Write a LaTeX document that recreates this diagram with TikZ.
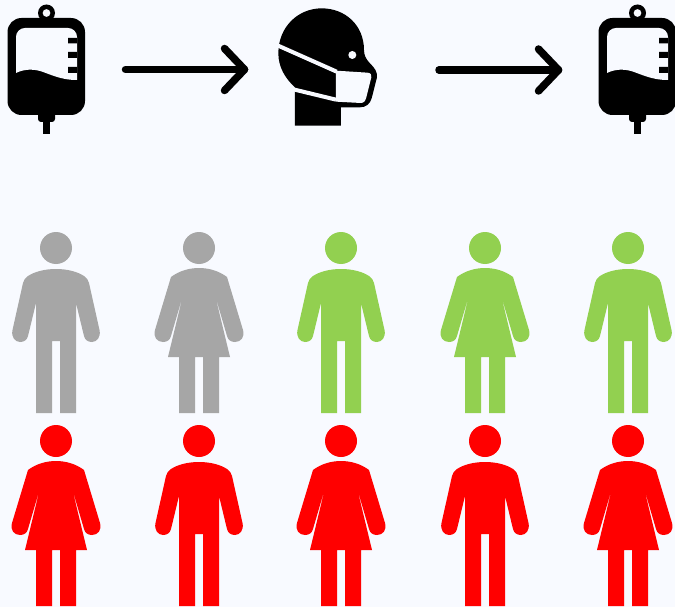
\documentclass[tikz,border=0pt]{standalone}
\definecolor{bgc}{HTML}{F8FAFF}
\definecolor{greyc}{HTML}{A6A6A6}
\definecolor{greenc}{HTML}{92D050}
\definecolor{redc}{HTML}{FF0000}
\tikzset{
  px/.style={x=1pt,y=-1pt},
  arrowline/.style={draw=black,line width=7.5pt,line cap=round,line join=round},
}
% man: #1 cx, #2 dy (0 = top row), #3 colour
\newcommand{\manfig}[3]{
  \begin{scope}[shift={(#1,#2)}]
    \fill[#3] (0,248) circle[radius=16];
    \fill[#3] (0,269) .. controls (-12,269) and (-22,272) .. (-28,276)
      .. controls (-31,278) and (-32,280) .. (-33,283)
      -- (-43.5,330) .. controls (-45,337) and (-41,342) .. (-36,342)
      .. controls (-32,342) and (-29,340) .. (-28,336)
      -- (-20,303) -- (-20,413) -- (-4,413) -- (-4,341) -- (4,341) -- (4,413) -- (20,413) -- (20,303)
      -- (28,336) .. controls (29,340) and (32,342) .. (36,342)
      .. controls (41,342) and (45,337) .. (43.5,330)
      -- (33,283) .. controls (32,280) and (31,278) .. (28,276)
      .. controls (22,272) and (12,269) .. (0,269) -- cycle;
  \end{scope}
}
% woman: #1 cx, #2 dy (0 = bottom row), #3 colour
\newcommand{\womanfig}[3]{
  \begin{scope}[shift={(#1,#2)}]
    \fill[#3] (0,441) circle[radius=16];
    \fill[#3] (0,461) .. controls (-10,461) and (-20,464) .. (-28,470)
      -- (-44,523) .. controls (-46,530) and (-42,535) .. (-36,535)
      .. controls (-32,535) and (-29,533) .. (-28,529)
      -- (-16,488) -- (-31,550) -- (-20,550) -- (-20,606) -- (-4,606) -- (-4,550) -- (4,550)
      -- (4,606) -- (20,606) -- (20,550) -- (31,550) -- (16,488)
      -- (28,529) .. controls (29,533) and (32,535) .. (36,535)
      .. controls (42,535) and (46,530) .. (44,523)
      -- (28,470) .. controls (20,464) and (10,461) .. (0,461) -- cycle;
  \end{scope}
}
\newcommand{\bagfig}[1]{
  \begin{scope}[shift={(#1,0)}]
    \fill[black,even odd rule] (46.5,13) circle[radius=8.5] (46.5,13) circle[radius=4];
    \fill[black,rounded corners=14pt] (7.5,18) rectangle (85,115);
    \fill[black,rounded corners=3pt] (38,110) rectangle (55,122);
    \fill[black] (43,118) rectangle (50,134);
    \fill[bgc] (16,73) -- (16,37) .. controls (16,32) and (20,28) .. (25,28)
       -- (68,28) .. controls (73,28) and (77,32) .. (77,37) -- (77,80)
       .. controls (60,80) and (50,74) .. (40,71)
       .. controls (33,69) and (24,69) .. (16,73) -- cycle;
    \fill[black] (68,38) rectangle (77,43.5) (68,52) rectangle (77,58) (68,67) rectangle (77,73);
  \end{scope}
}
\begin{document}
\begin{tikzpicture}[px]
\useasboundingbox (0,0) rectangle (675,607);
\fill[bgc] (0,0) rectangle (675,607);
\bagfig{0}
\bagfig{591}
% arrows
\coordinate (a1s) at (125.5,69.5); \coordinate (a1e) at (244.5,69.5);
\coordinate (a2s) at (439,70); \coordinate (a2e) at (558.5,70);
\draw[arrowline] (a1s) -- (a1e);
\draw[arrowline] (224.5,48.5) -- (a1e) -- (224.5,90.5);
\draw[arrowline] (a2s) -- (a2e);
\draw[arrowline] (538.5,49) -- (a2e) -- (538.5,91);
% head
\begin{scope}[shift={(260,0)},x=0.3333pt,y=-0.3333pt]
  \fill[black] (105,377) -- (105,262) .. controls (75,235) and (55,200) .. (55,160)
    .. controls (55,80) and (115,25) .. (185,25)
    .. controls (255,25) and (312,75) .. (312,150)
    .. controls (312,165) and (318,178) .. (330,190)
    .. controls (345,205) and (352,215) .. (351,232)
    -- (335,295) .. controls (330,312) and (318,322) .. (300,322)
    -- (243,322) -- (243,377) -- cycle;
  \draw[bgc,line width=4pt] (50,135) -- (230,215) (100,268) -- (228,299);
  \fill[bgc] (228,212) -- (322,218) .. controls (332,219) and (336,224) .. (334,232)
    -- (319,292) .. controls (316,303) and (312,309) .. (302,309) -- (228,305) -- cycle;
  \fill[bgc] (277,165) circle[radius=12];
\end{scope}
\manfig{56}{0}{greyc}
\womanfig{199}{-193}{greyc}
\manfig{341}{0}{greenc}
\womanfig{485}{-193}{greenc}
\manfig{628}{0}{greenc}
\womanfig{56}{0}{redc}
\manfig{199}{193}{redc}
\womanfig{341}{0}{redc}
\manfig{485}{193}{redc}
\womanfig{628}{0}{redc}
\end{tikzpicture}
\end{document}
